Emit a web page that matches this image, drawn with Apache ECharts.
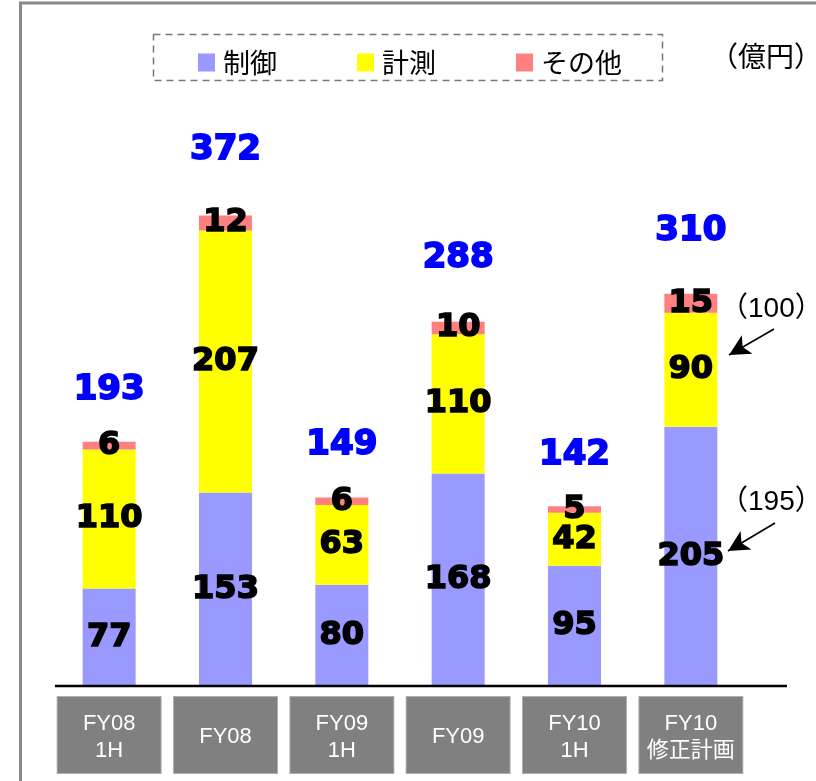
<!DOCTYPE html>
<html>
<head>
<meta charset="utf-8">
<script src="https://cdn.jsdelivr.net/npm/echarts@6/dist/echarts.min.js"></script>
<style>
  html, body { margin: 0; padding: 0; background: #fff; }
  #chart { width: 816px; height: 781px; }
</style>
</head>
<body>
<div id="chart"></div>
<script>
// categories (two-line labels split with \n)
const categories = ['FY08\n1H', 'FY08', 'FY09\n1H', 'FY09', 'FY10\n1H', 'FY10\n修正計画'];
// 億円
const control = [77, 153, 80, 168, 95, 205];   // 制御
const measure = [110, 207, 63, 110, 42, 90];   // 計測
const others  = [6, 12, 6, 10, 5, 15];         // その他
const totals = control.map((v, i) => v + measure[i] + others[i]);
// previous plan values shown beside the last bar
const prevPlan = ['（100）', '（195）'];

// gap between bar top and the total label (half-year vs full-year bars)
const totalLift = [-30, -43, -30, -42, -29, -41];

const chart = echarts.init(document.getElementById('chart'));

const segLabel = {
  show: true,
  position: 'inside',
  color: '#000',
  fontFamily: 'DejaVu Sans',
  fontWeight: 'bold',
  fontSize: 32,
  textBorderColor: '#000',
  textBorderWidth: 1.6
};

const catFont = "'Liberation Sans', 'Noto Sans CJK JP', sans-serif";
const noteFont = "'Liberation Sans', 'Noto Sans CJK JP', sans-serif";

const option = {
  backgroundColor: '#fff',
  animation: false,
  legend: {
    left: 193,
    top: 44,
    itemWidth: 17,
    itemHeight: 18,
    itemGap: 80,
    icon: 'rect',
    textStyle: {
      fontFamily: 'Noto Sans CJK JP',
      fontSize: 27,
      color: '#000',
      padding: [0, 0, 0, 3]
    },
    data: ['制御', '計測', 'その他']
  },
  grid: { left: 51, width: 698, top: 180, height: 506 },
  xAxis: {
    type: 'category',
    data: categories,
    axisLine: { show: false },
    axisTick: { show: false },
    axisLabel: {
      interval: 0,
      margin: 11,
      fontSize: 22,
      fontFamily: catFont,
      color: '#fff',
      formatter: function (v) {
        const parts = v.split('\n');
        if (parts.length === 1) return '{s|' + v + '}';
        return '{d|' + parts[0] + '}\n{d|' + parts[1] + '}';
      },
      width: 103,
      align: 'center',
      backgroundColor: '#808080',
      borderColor: '#b0b0b0',
      borderWidth: 1,
      padding: [13, 0, 9, 0],
      rich: {
        s: { color: '#fff', fontFamily: catFont, fontSize: 22, lineHeight: 54, width: 103, align: 'center' },
        d: { color: '#fff', fontFamily: catFont, fontSize: 22, lineHeight: 27, width: 103, align: 'center' }
      }
    }
  },
  yAxis: {
    type: 'value',
    min: 0,
    max: 400,
    show: false
  },
  series: [
    {
      name: '制御', type: 'bar', stack: 'total', barWidth: 53,
      itemStyle: { color: '#9999FF' },
      label: segLabel,
      data: control
    },
    {
      name: '計測', type: 'bar', stack: 'total',
      itemStyle: { color: '#FFFF00' },
      label: segLabel,
      data: measure
    },
    {
      name: 'その他', type: 'bar', stack: 'total',
      itemStyle: { color: '#FF8080' },
      label: segLabel,
      data: others
    },
    {
      name: 'total', type: 'scatter',
      symbolSize: 0,
      silent: true,
      z: 5,
      itemStyle: { opacity: 1, color: '#0000FF' },
      data: totals.map((v, i) => ({
        value: v,
        label: { offset: [0, totalLift[i]] }
      })),
      label: {
        show: true,
        position: 'top',
        color: '#0000FF',
        fontFamily: 'DejaVu Sans',
        fontWeight: 'bold',
        fontSize: 34,
        textBorderColor: '#0000FF',
        textBorderWidth: 1.8
      },
      markLine: {
        silent: true,
        symbol: ['none', 'arrow'],
        symbolSize: [16, 21],
        label: { show: false },
        lineStyle: { color: '#000', width: 1.6, type: 'solid', opacity: 1 },
        data: [
          [{ x: 774, y: 329 }, { x: 729, y: 355 }],
          [{ x: 775, y: 523 }, { x: 728, y: 551 }]
        ]
      }
    }
  ],
  graphic: [
    {
      type: 'rect', z: 100, silent: true,
      shape: { x: 20.5, y: 3, width: 1000, height: 1000 },
      style: { fill: 'none', stroke: '#888', lineWidth: 3 }
    },
    {
      type: 'rect', z: 100, silent: true,
      shape: { x: 153.5, y: 34.5, width: 509, height: 46 },
      style: { fill: 'none', stroke: '#777', lineWidth: 1.5, lineDash: [7, 5] }
    },
    {
      type: 'line', z: 100, silent: true,
      shape: { x1: 55, y1: 686, x2: 787, y2: 686 },
      style: { stroke: '#000', lineWidth: 2.5 }
    },
    {
      type: 'text', z: 100, silent: true,
      left: 710, top: 42,
      style: { text: '（億円）', fontFamily: 'Noto Sans CJK JP', fontSize: 28, fill: '#000' }
    },
    {
      type: 'text', z: 100, silent: true,
      left: 720, top: 295,
      style: { text: prevPlan[0], fontFamily: noteFont, fontSize: 28, fill: '#000' }
    },
    {
      type: 'text', z: 100, silent: true,
      left: 720, top: 488,
      style: { text: prevPlan[1], fontFamily: noteFont, fontSize: 28, fill: '#000' }
    }
  ]
};

chart.setOption(option);
</script>
</body>
</html>
